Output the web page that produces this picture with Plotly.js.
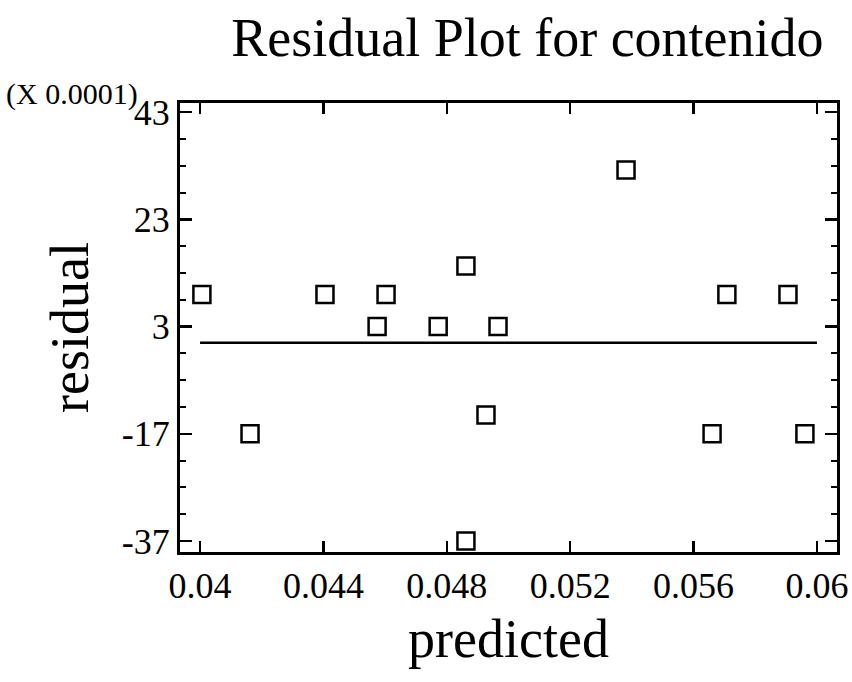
<!DOCTYPE html>
<html>
<head>
<meta charset="utf-8">
<script src="https://cdn.plot.ly/plotly-3.0.1.min.js"></script>
<style>html,body{margin:0;padding:0;background:#fff;}#chart{width:852px;height:682px;}</style>
</head>
<body>
<div id="chart"></div>
<script>
// Data (residuals in units of 0.0001)
const predicted = [0.04006, 0.04162, 0.04405, 0.04574, 0.04603, 0.04772, 0.04862, 0.04862, 0.04927, 0.04966, 0.05381, 0.0566, 0.05708, 0.05906, 0.05961];
const residual  = [9, -17, 9, 3, 9, 3, 14.3, -37, -13.5, 3, 32.2, -17, 9, 9, -17];
const zeroLineX = [0.04, 0.06];
const zeroLineY = [0, 0];
const yTickVals = [-37, -17, 3, 23, 43];
const yTickText = ["-37", "-17", "3", "23", "43"];
const xTickVals = [0.04, 0.044, 0.048, 0.052, 0.056, 0.06];
const xTickText = ["0.04", "0.044", "0.048", "0.052", "0.056", "0.06"];

const serif = "Liberation Serif, Times New Roman, serif";

const traces = [
  {
    x: zeroLineX, y: zeroLineY, mode: 'lines', type: 'scatter',
    line: {color: '#000', width: 2.5}, hoverinfo: 'skip', showlegend: false
  },
  {
    x: predicted, y: residual, mode: 'markers', type: 'scatter',
    marker: {symbol: 'square-open', size: 17, color: '#000', line: {width: 2.5, color: '#000'}},
    showlegend: false
  }
];

const layout = {
  width: 852, height: 682,
  margin: {l: 180, r: 15, t: 103, b: 130},
  paper_bgcolor: '#fff', plot_bgcolor: '#fff',
  font: {family: serif, color: '#000'},
  title: {text: 'Residual Plot for contenido', font: {family: serif, size: 54, color: '#000'},
          x: 0.619, xanchor: 'center', y: 0.945, yanchor: 'middle', yref: 'container'},
  xaxis: {
    range: [0.03935, 0.06065],
    tickvals: xTickVals, ticktext: xTickText,
    ticks: 'inside', ticklen: 11, tickwidth: 2.5, tickcolor: '#000',
    showline: true, linewidth: 3, linecolor: '#000', mirror: 'ticks',
    showgrid: false, zeroline: false,
    tickfont: {family: serif, size: 36, color: '#000'},
    title: {text: 'predicted', font: {family: serif, size: 54, color: '#000'}, standoff: 14}
  },
  yaxis: {
    range: [-39.05, 44.7],
    tickvals: yTickVals, ticktext: yTickText,
    ticks: 'inside', ticklen: 12, tickwidth: 2.5, tickcolor: '#000',
    showline: true, linewidth: 3, linecolor: '#000', mirror: 'ticks',
    showgrid: false, zeroline: false,
    minor: {tick0: 3, dtick: 5, ticks: 'inside', ticklen: 6, tickwidth: 2, tickcolor: '#000', showgrid: false},
    tickfont: {family: serif, size: 36, color: '#000'},
    title: {text: 'residual', font: {family: serif, size: 54, color: '#000'}, standoff: 16}
  },
  annotations: [
    {text: '(X 0.0001)', xref: 'paper', yref: 'paper', x: -0.268, y: 1.02,
     xanchor: 'left', yanchor: 'middle', showarrow: false,
     font: {family: serif, size: 30, color: '#000'}}
  ]
};

Plotly.newPlot('chart', traces, layout, {displayModeBar: false, staticPlot: true});
</script>
</body>
</html>
